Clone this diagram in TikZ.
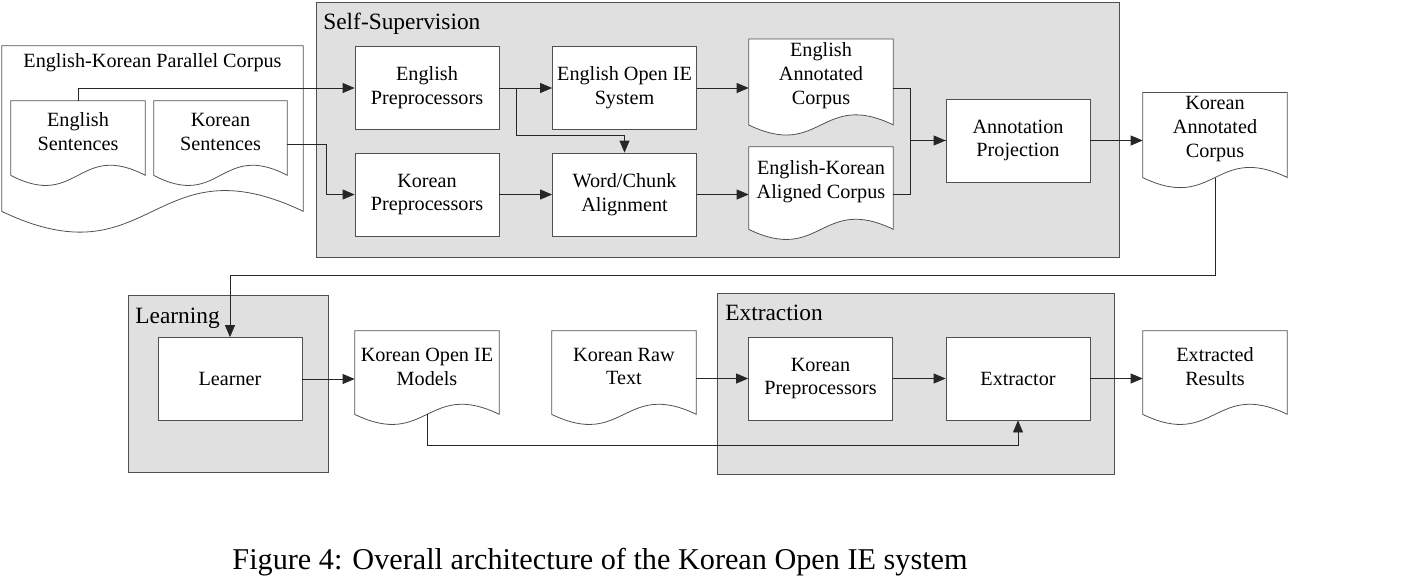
\documentclass[tikz,border=0pt]{standalone}
\usepackage{fontspec}
\setmainfont{Liberation Serif}
\usetikzlibrary{calc,arrows.meta}
\definecolor{groupgray}{HTML}{E0E0E0}
\definecolor{edgegray}{HTML}{505050}
\pgfdeclarelayer{groups}
\pgfdeclarelayer{paper}
\pgfsetlayers{groups,paper,main}
\newcommand{\boxfont}{\fontsize{11.5}{13.6}\selectfont}
\newcommand{\groupfont}{\fontsize{13.3}{16}\selectfont}
\tikzset{
	proc/.style={draw=edgegray, line width=0.45pt, fill=white, minimum width=2.88cm, minimum height=1.66cm, align=center, inner sep=2pt, font=\boxfont},
	doc/.style={align=center, inner sep=2pt, font=\boxfont},
	docline/.style={draw=edgegray, line width=0.45pt, fill=white},
	group/.style={draw=edgegray, line width=0.5pt, fill=groupgray, anchor=north west},
	grouptitle/.style={anchor=base west, inner sep=0pt, font=\groupfont},
	flow/.style={draw=black!85, line width=0.45pt, -{Triangle[length=2.4mm,width=2mm]}},
	link/.style={draw=black!85, line width=0.45pt}
}
% outline of a document node with its wavy foot
\newcommand{\docshape}[2][35]{\draw[docline] ($(#2.south west)+(0,12)$) -- (#2.north west) -- (#2.north east) -- ($(#2.south east)+(0,12)$) .. controls ($(#2.south)+(0,{12-#1})$) and ($(#2.south)+(0,{12+#1})$) .. ($(#2.south west)+(0,12)$) -- cycle;
	\coordinate (#2-foot) at ($(#2.south)+(0,12)$);}

\begin{document}
\begin{tikzpicture}[x=0.02cm, y=-0.02cm]
			%%%%% START %%%%%
			\useasboundingbox (0, 0) rectangle (1403, 576);
			
			% groups
			\begin{pgfonlayer}{groups}
				\node[group, minimum width=16.06cm, minimum height=5.1cm] (selfsup) at (316, 2) {};
				\node[group, minimum width=4cm, minimum height=3.54cm] (learning) at (128, 295) {};
				\node[group, minimum width=7.94cm, minimum height=3.62cm] (extraction) at (717, 293) {};
			\end{pgfonlayer}
			\node[grouptitle] (selfsup-title) at ($(selfsup.north west)+(7, 27)$) {Self-Supervision};
			\node[grouptitle] (learning-title) at ($(learning.north west)+(7, 28)$) {Learning};
			\node[grouptitle] (extraction-title) at ($(extraction.north west)+(8, 27)$) {Extraction};
			
			% documents
			\node[doc, minimum width=6.02cm, minimum height=3.06cm, label={[anchor=center, yshift=-0.34cm, font=\boxfont]north:English-Korean Parallel Corpus}] (parallel) at (152.5, 122.5) {};
			\node[doc, minimum width=2.68cm, minimum height=1.24cm] (engsent) at (78, 132) {English\\Sentences};
			\node[doc, minimum width=2.66cm, minimum height=1.24cm] (korsent) at (220.5, 132) {Korean\\Sentences};
			\node[doc, minimum width=2.88cm, minimum height=1.4cm] (engann) at (821, 76) {English\\Annotated\\Corpus};
			\node[doc, minimum width=2.88cm, minimum height=1.4cm] (aligned) at (821, 182) {English-Korean\\Aligned Corpus};
			\node[doc, minimum width=2.88cm, minimum height=1.44cm] (korann) at (1215, 129) {Korean\\Annotated\\Corpus};
			\node[doc, minimum width=2.88cm, minimum height=1.42cm] (models) at (427, 366.5) {Korean Open IE\\Models};
			\node[doc, minimum width=2.88cm, minimum height=1.42cm] (rawtext) at (624, 366.5) {Korean Raw\\Text};
			\node[doc, minimum width=2.88cm, minimum height=1.42cm] (results) at (1215, 366.5) {Extracted\\Results};
			
			% processes
			\node[proc] (engpre) at (427, 88) {English\\Preprocessors};
			\node[proc] (korpre) at (427, 194.5) {Korean\\Preprocessors};
			\node[proc] (engie) at (624.5, 88) {English Open IE\\System};
			\node[proc] (align) at (624.5, 194.5) {Word/Chunk\\Alignment};
			\node[proc] (annproj) at (1018, 140.5) {Annotation\\Projection};
			\node[proc] (learner) at (230, 379) {Learner};
			\node[proc] (korpre2) at (820.5, 378.5) {Korean\\Preprocessors};
			\node[proc] (extractor) at (1018, 378.5) {Extractor};
			
			\begin{pgfonlayer}{paper}
				\docshape[72]{parallel}
				\docshape{engsent}
				\docshape{korsent}
				\docshape{engann}
				\docshape{aligned}
				\docshape{korann}
				\docshape{models}
				\docshape{rawtext}
				\docshape{results}
			\end{pgfonlayer}
			
			% self-supervision flow
			\draw[flow] (engsent.north) |- (engpre.west);
			\draw[flow] ($(korsent.east)+(0, 12)$) -- ++(39, 0) |- (korpre.west);
			\draw[flow] (engpre.east) -- (engie.west);
			\draw[flow] ($(engpre.east)+(17, 0)$) |- ($(align.north)+(0, -17)$) -- (align.north);
			\draw[flow] (korpre.east) -- (align.west);
			\draw[flow] (engie.east) -- (engie.east -| engann.west);
			\draw[flow] (align.east) -- (align.east -| aligned.west);
			\draw[flow] (engie.east -| engann.east) -- ++(17, 0) |- (annproj.west);
			\draw[link] (align.east -| aligned.east) -- ++(17, 0) |- (annproj.west);
			\draw[flow] (annproj.east) -- (annproj.east -| korann.west);
			
			% learning and extraction
			\draw[flow] (korann-foot) -- ++(0, 98) -| (learner.north);
			\draw[flow] (learner.east) -- (learner.east -| models.west);
			\draw[flow] (korpre2.west -| rawtext.east) -- (korpre2.west);
			\draw[flow] (korpre2.east) -- (extractor.west);
			\draw[flow] (extractor.east) -- (extractor.east -| results.west);
			\draw[flow] (models-foot) -- ++(0, 31) -| (extractor.south);
			
			\node[font=\fontsize{17.2}{20}\selectfont] (caption) at (600, 562) {Figure 4: Overall architecture of the Korean Open IE system};
			
			%%%%% END %%%%%
		\end{tikzpicture}
\end{document}
